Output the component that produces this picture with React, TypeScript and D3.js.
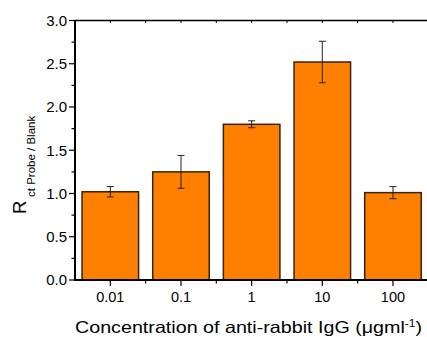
import React, { useRef, useEffect } from "react";
import * as d3 from "d3";

const categories = ["0.01", "0.1", "1", "10", "100"];
const ratios = [1.02, 1.25, 1.8, 2.52, 1.01];
const errors = [0.06, 0.19, 0.04, 0.24, 0.07];
const yTicks = [0, 0.5, 1.0, 1.5, 2.0, 2.5, 3.0];

const W = 427;
const H = 337;

const App: React.FC = () => {
  const svgRef = useRef<SVGSVGElement | null>(null);

  useEffect(() => {
    if (!svgRef.current) return;
    const svg = d3.select(svgRef.current);
    svg.selectAll("*").remove();

    const left = 75;
    const right = 428.3;
    const top = 20.5;
    const bottom = 280;

    const x = d3
      .scaleBand<string>()
      .domain(categories)
      .range([left, right])
      .paddingInner(0.2)
      .paddingOuter(0.1);
    const y = d3.scaleLinear().domain([0, 3]).range([bottom, top]);
    const step = x.step();
    const font = "'Liberation Sans', Arial, sans-serif";

    // bars
    svg
      .selectAll("rect.bar")
      .data(ratios)
      .enter()
      .append("rect")
      .attr("class", "bar")
      .attr("x", (_, i) => x(categories[i])!)
      .attr("y", (d) => y(d))
      .attr("width", x.bandwidth())
      .attr("height", (d) => bottom - y(d))
      .attr("fill", "#ff8000")
      .attr("stroke", "#3a2204")
      .attr("stroke-width", 1.5);

    // error bars
    const eb = svg
      .selectAll("g.err")
      .data(ratios)
      .enter()
      .append("g")
      .attr("class", "err")
      .attr("stroke", "#222")
      .attr("stroke-width", 1);
    const cx = (i: number) => x(categories[i])! + x.bandwidth() / 2;
    eb.append("line")
      .attr("x1", (_, i) => cx(i))
      .attr("x2", (_, i) => cx(i))
      .attr("y1", (d, i) => y(d + errors[i]))
      .attr("y2", (d, i) => y(d - errors[i]));
    eb.append("line")
      .attr("x1", (_, i) => cx(i) - 3.5)
      .attr("x2", (_, i) => cx(i) + 3.5)
      .attr("y1", (d, i) => y(d + errors[i]))
      .attr("y2", (d, i) => y(d + errors[i]));
    eb.append("line")
      .attr("x1", (_, i) => cx(i) - 3.5)
      .attr("x2", (_, i) => cx(i) + 3.5)
      .attr("y1", (d, i) => y(d - errors[i]))
      .attr("y2", (d, i) => y(d - errors[i]));

    // frame
    svg
      .append("line")
      .attr("x1", left)
      .attr("x2", W)
      .attr("y1", top)
      .attr("y2", top)
      .attr("stroke", "#000")
      .attr("stroke-width", 1.5);
    svg
      .append("line")
      .attr("x1", left)
      .attr("x2", left)
      .attr("y1", top - 0.5)
      .attr("y2", bottom + 1)
      .attr("stroke", "#000")
      .attr("stroke-width", 2);
    svg
      .append("line")
      .attr("x1", left - 1)
      .attr("x2", W)
      .attr("y1", bottom)
      .attr("y2", bottom)
      .attr("stroke", "#000")
      .attr("stroke-width", 2);

    // y ticks
    const yMinor = d3.range(0.25, 3, 0.5);
    svg
      .selectAll("line.ytick")
      .data(yTicks)
      .enter()
      .append("line")
      .attr("x1", left - 6)
      .attr("x2", left)
      .attr("y1", (d) => y(d))
      .attr("y2", (d) => y(d))
      .attr("stroke", "#000")
      .attr("stroke-width", 1.2);
    svg
      .selectAll("line.yminor")
      .data(yMinor)
      .enter()
      .append("line")
      .attr("x1", left - 3.5)
      .attr("x2", left)
      .attr("y1", (d) => y(d))
      .attr("y2", (d) => y(d))
      .attr("stroke", "#000")
      .attr("stroke-width", 1.2);
    svg
      .selectAll("text.ylab")
      .data(yTicks)
      .enter()
      .append("text")
      .attr("x", left - 8)
      .attr("y", (d) => y(d))
      .attr("dy", "0.36em")
      .attr("text-anchor", "end")
      .attr("font-family", font)
      .attr("font-size", 15)
      .text((d) => d.toFixed(1));

    // x ticks (bottom outward, top inward)
    const majorX = categories.map((_, i) => cx(i));
    const minorX = categories.map((_, i) => cx(i) + step / 2);
    svg
      .selectAll("line.xmaj")
      .data(majorX)
      .enter()
      .append("line")
      .attr("x1", (d) => d)
      .attr("x2", (d) => d)
      .attr("y1", bottom)
      .attr("y2", bottom + 6)
      .attr("stroke", "#000")
      .attr("stroke-width", 1.2);
    svg
      .selectAll("line.xmin")
      .data(minorX)
      .enter()
      .append("line")
      .attr("x1", (d) => d)
      .attr("x2", (d) => d)
      .attr("y1", bottom)
      .attr("y2", bottom + 3.5)
      .attr("stroke", "#000")
      .attr("stroke-width", 1.2);
    svg
      .selectAll("line.xtop")
      .data([...majorX, ...minorX])
      .enter()
      .append("line")
      .attr("x1", (d) => d)
      .attr("x2", (d) => d)
      .attr("y1", top)
      .attr("y2", top + 2.5)
      .attr("stroke", "#000")
      .attr("stroke-width", 1);
    svg
      .selectAll("text.xlab")
      .data(categories)
      .enter()
      .append("text")
      .attr("x", (_, i) => cx(i))
      .attr("y", 302)
      .attr("text-anchor", "middle")
      .attr("font-family", font)
      .attr("font-size", 14.5)
      .text((d) => d);

    // x title
    const xt = svg
      .append("text")
      .attr("x", 75)
      .attr("y", 333)
      .attr("font-family", font)
      .attr("font-size", 16.5)
      .attr("textLength", 347)
      .attr("lengthAdjust", "spacingAndGlyphs");
    xt.append("tspan").text("Concentration of anti-rabbit IgG (\u03bcgml");
    xt.append("tspan").attr("font-size", 10).attr("dy", -6).text("-1");
    xt.append("tspan").attr("dy", 6).text(")");

    // y title
    const yt = svg
      .append("g")
      .attr("transform", `translate(25.5, 214) rotate(-90)`)
      .attr("font-family", font);
    yt.append("text").attr("x", 0).attr("y", 0).attr("font-size", 18.5).text("R");
    yt.append("text")
      .attr("x", 17)
      .attr("y", 9)
      .attr("font-size", 11.5)
      .text("ct Probe / Blank");
  }, []);

  return (
    <div>
      <svg
        ref={svgRef}
        width={W}
        height={H}
        style={{ position: "absolute", left: 0, top: 0, display: "block" }}
      ></svg>
    </div>
  );
};

export default App;
